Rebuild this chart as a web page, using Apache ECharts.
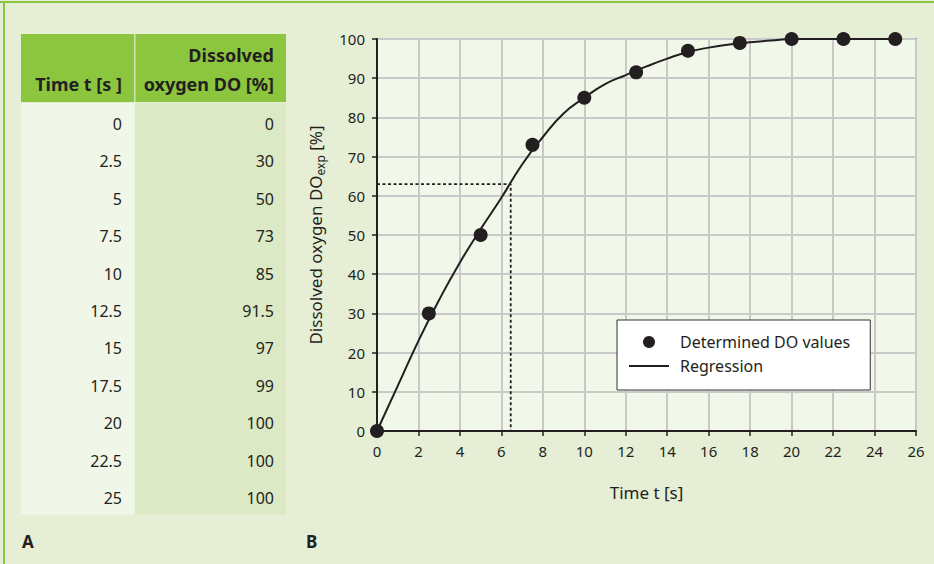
<!DOCTYPE html>
<html>
<head>
<meta charset="utf-8">
<script src="https://cdn.jsdelivr.net/npm/echarts@6/dist/echarts.min.js"></script>
<style>
html,body{margin:0;padding:0;background:#e6efd6;}
#c{width:934px;height:564px;}
</style>
</head>
<body>
<div id="c"></div>
<script>
// ---- data ----
const timeValues = [0, 2.5, 5, 7.5, 10, 12.5, 15, 17.5, 20, 22.5, 25];
const doValues = [0, 30, 50, 73, 85, 91.5, 97, 99, 100, 100, 100];
const regressionTime = [0, 1, 2, 3, 4, 5, 6, 7, 8, 9, 10, 11, 12, 13, 14, 15, 16, 17, 18, 19, 20, 22, 25];
const regressionDO = [0, 11.5, 23, 33.5, 43, 51.5, 59.5, 68, 75, 81, 85, 88.5, 90.8, 93, 95, 96.7, 97.8, 98.6, 99.2, 99.6, 100, 100, 100];
const tauTime = 6.45;
const tauDO = 63;
const tableHeaders = ['Time t [s ]', 'Dissolved\noxygen DO [%]'];
const xTicks = [0, 26, 2];
const yTicks = [0, 100, 10];

const FONT = 'Noto Sans';
const INK = '#231f20';

// ---- table drawn as graphic elements ----
const tLeft = 21, tDiv = 135, tRight = 286, tHeadTop = 34, tHeadBot = 102, rowH = 37.4, bodyTop = 103;
const graphics = [];
graphics.push({type:'rect', shape:{x:0,y:1,width:934,height:2}, style:{fill:'#8dc63f'}, silent:true});
graphics.push({type:'rect', shape:{x:3,y:1,width:2,height:563}, style:{fill:'#8dc63f'}, silent:true});
graphics.push({type:'rect', shape:{x:tLeft,y:tHeadTop,width:tRight-tLeft,height:tHeadBot-tHeadTop}, style:{fill:'#8cc63f'}});
graphics.push({type:'rect', shape:{x:tDiv-1,y:tHeadTop,width:1.5,height:tHeadBot-tHeadTop}, style:{fill:'#cfe6b0'}});
const bodyH = rowH * timeValues.length;
graphics.push({type:'rect', shape:{x:tLeft,y:bodyTop,width:tDiv-tLeft,height:bodyH}, style:{fill:'#f1f7e8'}});
graphics.push({type:'rect', shape:{x:tDiv,y:bodyTop,width:tRight-tDiv,height:bodyH}, style:{fill:'#dce9c5'}});
graphics.push({type:'text', x:122, y:84, style:{text:tableHeaders[0], font:'bold 18px "'+FONT+'"', fill:INK, align:'right', verticalAlign:'middle'}});
graphics.push({type:'text', x:274, y:69, style:{text:tableHeaders[1], font:'bold 18px "'+FONT+'"', fill:INK, align:'right', verticalAlign:'middle', lineHeight:29}});
timeValues.forEach((t, i) => {
  const cy = 124 + i * rowH;
  graphics.push({type:'text', x:122, y:cy, style:{text:String(t), font:'16px "'+FONT+'"', fill:INK, align:'right', verticalAlign:'middle'}});
  graphics.push({type:'text', x:274, y:cy, style:{text:String(doValues[i]), font:'16px "'+FONT+'"', fill:INK, align:'right', verticalAlign:'middle'}});
});
graphics.push({type:'text', x:22, y:541, style:{text:'A', font:'bold 17px "'+FONT+'"', fill:INK, verticalAlign:'middle'}});
graphics.push({type:'text', x:306, y:541, style:{text:'B', font:'bold 17px "'+FONT+'"', fill:INK, verticalAlign:'middle'}});

const chart = echarts.init(document.getElementById('c'), null, {renderer:'svg'});
chart.setOption({
  backgroundColor: '#e6efd6',
  animation: false,
  textStyle: {fontFamily: FONT, color: INK},
  grid: {left: 377, top: 39, width: 539, height: 392, show: true, backgroundColor: '#f1f7e9', borderColor: INK, borderWidth: 1.5},
  xAxis: {
    type: 'value', min: xTicks[0], max: xTicks[1], interval: xTicks[2],
    name: 'Time t [s]', nameLocation: 'middle', nameGap: 53,
    nameTextStyle: {fontSize: 17, color: INK, fontFamily: FONT},
    axisLine: {show: true, lineStyle: {color: INK, width: 2}},
    axisTick: {show: true, length: 5, lineStyle: {color: INK, width: 1.5}},
    axisLabel: {fontSize: 15, color: INK, margin: 12, fontFamily: FONT},
    splitLine: {show: true, lineStyle: {color: '#c9c9c9', width: 2}}
  },
  yAxis: {
    type: 'value', min: yTicks[0], max: yTicks[1], interval: yTicks[2],
    name: '{a|Dissolved oxygen DO}{s|exp}{a| [%]}', nameLocation: 'middle', nameGap: 51, nameRotate: 90,
    nameTextStyle: {color: INK, fontFamily: FONT, rich: {
      a: {fontSize: 17, lineHeight: 22, verticalAlign: 'middle', color: INK, fontFamily: FONT},
      s: {fontSize: 12, lineHeight: 22, verticalAlign: 'bottom', color: INK, fontFamily: FONT}
    }},
    axisLine: {show: true, lineStyle: {color: INK, width: 2}},
    axisTick: {show: true, length: 5, lineStyle: {color: INK, width: 1.5}},
    axisLabel: {fontSize: 15, color: INK, margin: 12, fontFamily: FONT},
    splitLine: {show: true, lineStyle: {color: '#c9c9c9', width: 2}}
  },
  legend: {
    orient: 'vertical', left: 617, top: 320,
    backgroundColor: '#ffffff', borderColor: '#333333', borderWidth: 1,
    padding: [12, 20, 14, 11],
    itemWidth: 40, itemHeight: 12, itemGap: 4,
    textStyle: {fontSize: 16, color: INK, lineHeight: 20, fontFamily: FONT, padding: [0, 0, 0, 6]},
    data: [{name: 'Determined DO values', icon: 'circle'}, {name: 'Regression'}]
  },
  graphic: graphics,
  series: [
    {
      name: 'tau', type: 'line', data: [[0, tauDO], [tauTime, tauDO], [tauTime, 0]],
      symbol: 'none', lineStyle: {color: INK, width: 1.8, type: [3, 2.5]}, silent: true, z: 2
    },
    {
      name: 'Regression', type: 'line', smooth: 0.5, symbol: 'none',
      data: regressionTime.map((t, i) => [t, regressionDO[i]]),
      lineStyle: {color: INK, width: 2}, itemStyle: {color: 'rgba(0,0,0,0)', borderWidth: 0}, z: 3
    },
    {
      name: 'Determined DO values', type: 'scatter', symbolSize: 14, clip: false,
      data: timeValues.map((t, i) => [t, doValues[i]]),
      itemStyle: {color: INK, opacity: 1}, z: 4
    }
  ]
});
</script>
</body>
</html>
